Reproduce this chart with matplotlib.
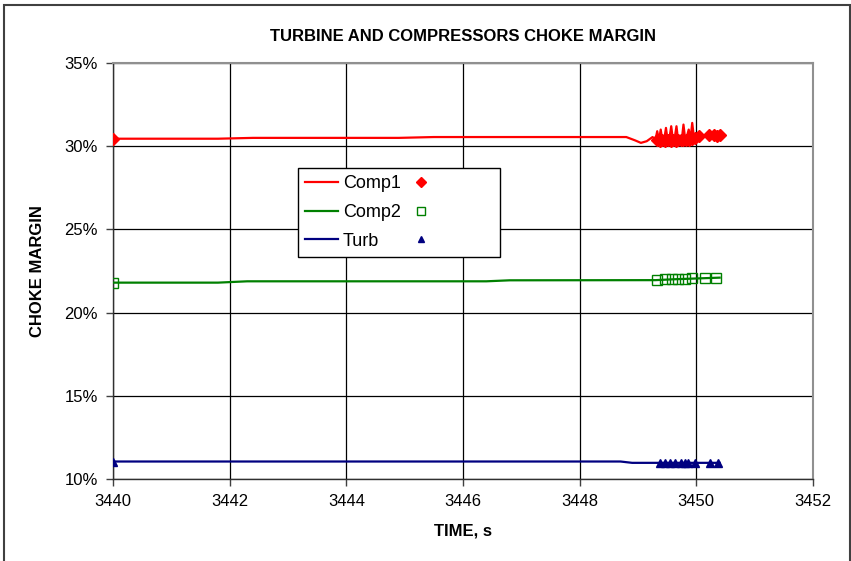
import matplotlib.pyplot as plt
from matplotlib.lines import Line2D
from matplotlib.patches import Rectangle
from matplotlib.ticker import FuncFormatter

plt.rcParams['font.family'] = ['Liberation Sans', 'DejaVu Sans']

# choke margin traces, %
comp1_t = [3440.0, 3441.8, 3442.4, 3444.9, 3445.5, 3448.8, 3448.95, 3449.05, 3449.15, 3449.25,
           3449.30, 3449.33, 3449.36, 3449.39, 3449.42, 3449.45, 3449.48, 3449.51, 3449.54,
           3449.57, 3449.60, 3449.63, 3449.66, 3449.69, 3449.72, 3449.75, 3449.78, 3449.81,
           3449.84, 3449.87, 3449.90, 3449.93, 3449.96, 3449.99, 3450.05, 3450.10, 3450.15,
           3450.20, 3450.25, 3450.30, 3450.35, 3450.40]
comp1_v = [30.45, 30.45, 30.5, 30.5, 30.55, 30.55, 30.35, 30.2, 30.3, 30.55,
           30.4, 30.9, 30.35, 31.0, 30.3, 30.4, 31.1, 30.3, 30.5,
           31.2, 30.35, 30.5, 31.2, 30.3, 30.6, 30.35, 31.3, 30.4,
           30.6, 31.0, 30.4, 31.4, 30.5, 30.7, 30.6, 30.5, 30.65,
           30.55, 30.75, 30.6, 30.7, 30.65]

comp2_t = [3440.0, 3441.8, 3442.3, 3446.4, 3446.8, 3449.3, 3449.6, 3450.0, 3450.4]
comp2_v = [21.8, 21.8, 21.88, 21.88, 21.94, 21.95, 22.0, 22.05, 22.1]

turb_t = [3440.0, 3448.7, 3448.9, 3450.4]
turb_v = [11.05, 11.05, 10.97, 10.97]

# sampled points
comp1_mt = [3440.0, 3449.33, 3449.38, 3449.42, 3449.47, 3449.51, 3449.56, 3449.60, 3449.65,
            3449.69, 3449.74, 3449.78, 3449.83, 3449.87, 3449.92, 3449.97, 3450.05, 3450.22,
            3450.30, 3450.36, 3450.40]
comp1_mv = [30.45, 30.35, 30.3, 30.35, 30.3, 30.35, 30.3, 30.35, 30.3,
            30.35, 30.4, 30.35, 30.4, 30.4, 30.45, 30.5, 30.6, 30.65,
            30.7, 30.6, 30.65]
comp2_mt = [3440.0, 3449.33, 3449.47, 3449.59, 3449.69, 3449.81, 3449.93, 3450.15, 3450.33]
comp2_mv = [21.8, 21.95, 22.0, 22.02, 22.03, 22.03, 22.05, 22.1, 22.1]
turb_mt = [3440.0, 3449.38, 3449.47, 3449.55, 3449.64, 3449.73, 3449.81, 3449.86, 3449.98,
           3450.24, 3450.38]
turb_mv = [11.0, 10.98, 10.98, 10.98, 10.98, 10.98, 10.98, 10.98, 10.98, 10.98, 10.98]

red = '#ff0000'
green = '#008000'
navy = '#000080'

fig = plt.figure(figsize=(8.51, 5.61), dpi=100)
ax = fig.add_axes([0.1328, 0.1462, 0.8225, 0.7415])

ax.plot(comp1_t, comp1_v, color=red, lw=1.6, zorder=3)
ax.plot(comp2_t, comp2_v, color=green, lw=1.6, zorder=3)
ax.plot(turb_t, turb_v, color=navy, lw=1.6, zorder=3)
ax.plot(comp1_mt, comp1_mv, 'D', color=red, ms=6, ls='none', zorder=4)
ax.plot(comp2_mt, comp2_mv, 's', mfc='none', mec=green, mew=1, ms=6.5, ls='none', zorder=4)
ax.plot(turb_mt, turb_mv, '^', color=navy, ms=6, ls='none', zorder=4)

ax.set_xlim(3440, 3452)
ax.set_ylim(10, 35)
ax.set_xticks(range(3440, 3453, 2))
ax.set_yticks(range(10, 36, 5))
ax.yaxis.set_major_formatter(FuncFormatter(lambda v, p: '%d%%' % v))
ax.grid(True, color='black', lw=0.9)
ax.set_axisbelow(True)
ax.tick_params(direction='out', length=5, width=1, labelsize=12, pad=6, color='#404040')
for s in ['top', 'right']:
    ax.spines[s].set_color('#909090')
    ax.spines[s].set_linewidth(1.5)
for s in ['left', 'bottom']:
    ax.spines[s].set_color('#303030')
    ax.spines[s].set_linewidth(1.0)

ax.set_title('TURBINE AND COMPRESSORS CHOKE MARGIN', fontsize=12, fontweight='bold', pad=16)
ax.set_xlabel('TIME, s', fontsize=12, fontweight='bold', labelpad=10)
ax.set_ylabel('CHOKE MARGIN', fontsize=12, fontweight='bold', labelpad=14)

# legend: line sample, name, then marker sample
line_h = [Line2D([], [], color=c, lw=1.6) for c in (red, green, navy)]
mark_h = [Line2D([], [], marker='D', color=red, ls='none', ms=5),
          Line2D([], [], marker='s', mfc='none', mec=green, ls='none', ms=5.5),
          Line2D([], [], marker='^', color=navy, ls='none', ms=5)]
blank = ' ' * 10
leg = ax.legend(line_h + mark_h, ['Comp1', 'Comp2', 'Turb', blank, blank, blank], ncol=2,
                loc='lower left', bbox_to_anchor=(0.264, 0.534), borderaxespad=0,
                fontsize=13, frameon=True, fancybox=False, edgecolor='black',
                framealpha=1, handlelength=1.8, columnspacing=0.2, handletextpad=0.3,
                labelspacing=0.65, borderpad=0.4)
leg.get_frame().set_linewidth(1.0)

# chart area border
fig.patches.append(Rectangle((4 / 851, -0.05), 846 / 851, 1.05 - 5 / 561,
                             transform=fig.transFigure, fill=False,
                             edgecolor='#404040', lw=1.5, clip_on=False))

fig.savefig('out.png', dpi=100)
